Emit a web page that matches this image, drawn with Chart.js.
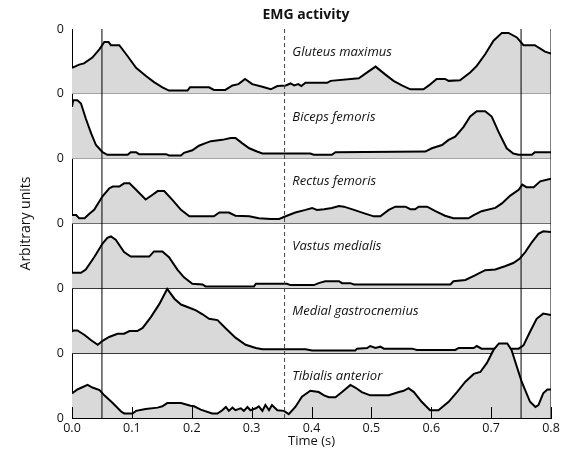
<!DOCTYPE html>
<html><head><meta charset="utf-8">
<script src="https://cdn.jsdelivr.net/npm/chart.js@4.4.1/dist/chart.umd.min.js"></script>
<style>html,body{margin:0;padding:0;background:#fff}#wrap{width:567px;height:458px}</style>
</head><body><div id="wrap"><canvas id="c" width="567" height="458"></canvas></div>
<script>
// ---- data (time in s, activity in arbitrary units, 0..1 per panel) ----
const muscleNames = ['Gluteus maximus','Biceps femoris','Rectus femoris','Vastus medialis','Medial gastrocnemius','Tibialis anterior'];
const gluteusMaximus = [[0,0.40],[0.012,0.45],[0.02,0.47],[0.034,0.56],[0.046,0.69],[0.054,0.80],[0.061,0.80],[0.065,0.75],[0.079,0.75],[0.093,0.58],[0.107,0.40],[0.123,0.28],[0.137,0.18],[0.151,0.10],[0.162,0.05],[0.193,0.05],[0.197,0.10],[0.229,0.10],[0.237,0.06],[0.256,0.06],[0.268,0.13],[0.278,0.15],[0.289,0.23],[0.301,0.15],[0.318,0.11],[0.332,0.07],[0.343,0.12],[0.357,0.13],[0.365,0.16],[0.371,0.13],[0.378,0.15],[0.383,0.12],[0.39,0.17],[0.426,0.17],[0.432,0.20],[0.479,0.24],[0.493,0.33],[0.507,0.42],[0.523,0.30],[0.537,0.20],[0.551,0.13],[0.565,0.07],[0.587,0.07],[0.596,0.13],[0.609,0.23],[0.623,0.23],[0.629,0.20],[0.648,0.21],[0.665,0.33],[0.676,0.43],[0.69,0.61],[0.704,0.82],[0.718,0.94],[0.729,0.94],[0.743,0.87],[0.754,0.75],[0.773,0.75],[0.79,0.65],[0.8,0.62]];
const bicepsFemoris = [[0,0.80],[0.002,0.90],[0.009,0.90],[0.015,0.85],[0.023,0.62],[0.032,0.39],[0.04,0.21],[0.051,0.10],[0.059,0.06],[0.093,0.06],[0.098,0.10],[0.107,0.10],[0.112,0.07],[0.157,0.07],[0.162,0.05],[0.182,0.05],[0.187,0.09],[0.201,0.13],[0.212,0.20],[0.223,0.24],[0.232,0.27],[0.251,0.29],[0.265,0.32],[0.273,0.32],[0.284,0.24],[0.296,0.16],[0.309,0.11],[0.318,0.08],[0.398,0.08],[0.404,0.06],[0.434,0.06],[0.44,0.10],[0.59,0.11],[0.601,0.16],[0.618,0.21],[0.629,0.29],[0.64,0.34],[0.654,0.49],[0.665,0.65],[0.676,0.73],[0.69,0.73],[0.701,0.65],[0.712,0.42],[0.726,0.16],[0.737,0.08],[0.746,0.06],[0.768,0.06],[0.773,0.10],[0.8,0.10]];
const rectusFemoris = [[0,0.13],[0.007,0.13],[0.012,0.08],[0.021,0.08],[0.029,0.15],[0.037,0.21],[0.051,0.42],[0.062,0.54],[0.068,0.57],[0.079,0.57],[0.087,0.62],[0.096,0.62],[0.107,0.52],[0.123,0.37],[0.134,0.44],[0.143,0.50],[0.154,0.50],[0.168,0.36],[0.182,0.21],[0.196,0.11],[0.237,0.11],[0.246,0.17],[0.262,0.17],[0.273,0.12],[0.296,0.11],[0.312,0.08],[0.332,0.07],[0.346,0.07],[0.359,0.12],[0.373,0.17],[0.39,0.21],[0.401,0.24],[0.409,0.21],[0.421,0.22],[0.434,0.24],[0.446,0.27],[0.454,0.26],[0.471,0.21],[0.487,0.16],[0.504,0.11],[0.515,0.11],[0.529,0.21],[0.54,0.26],[0.557,0.26],[0.565,0.22],[0.573,0.22],[0.579,0.26],[0.593,0.26],[0.607,0.19],[0.623,0.12],[0.637,0.08],[0.662,0.08],[0.671,0.13],[0.684,0.19],[0.707,0.24],[0.718,0.31],[0.732,0.43],[0.746,0.52],[0.752,0.60],[0.759,0.56],[0.771,0.56],[0.782,0.65],[0.8,0.69]];
const vastusMedialis = [[0,0.24],[0.015,0.24],[0.023,0.29],[0.037,0.48],[0.051,0.69],[0.059,0.78],[0.065,0.80],[0.073,0.75],[0.087,0.56],[0.098,0.49],[0.129,0.49],[0.137,0.57],[0.151,0.57],[0.162,0.48],[0.176,0.29],[0.187,0.17],[0.201,0.07],[0.218,0.06],[0.223,0.03],[0.304,0.03],[0.307,0.07],[0.359,0.07],[0.365,0.05],[0.404,0.05],[0.412,0.08],[0.423,0.11],[0.446,0.11],[0.451,0.08],[0.465,0.08],[0.471,0.06],[0.632,0.06],[0.637,0.11],[0.657,0.13],[0.673,0.20],[0.69,0.28],[0.707,0.29],[0.723,0.34],[0.737,0.39],[0.748,0.46],[0.757,0.56],[0.768,0.71],[0.779,0.84],[0.787,0.88],[0.8,0.87]];
const medialGastrocnemius = [[0,0.33],[0.002,0.35],[0.009,0.35],[0.021,0.28],[0.032,0.20],[0.043,0.13],[0.051,0.19],[0.062,0.25],[0.076,0.30],[0.087,0.30],[0.096,0.34],[0.109,0.34],[0.118,0.39],[0.132,0.56],[0.146,0.76],[0.159,0.99],[0.171,0.84],[0.182,0.75],[0.196,0.70],[0.207,0.66],[0.218,0.60],[0.229,0.53],[0.243,0.51],[0.257,0.38],[0.273,0.24],[0.29,0.13],[0.307,0.08],[0.318,0.06],[0.39,0.06],[0.401,0.04],[0.473,0.04],[0.476,0.07],[0.493,0.08],[0.498,0.11],[0.507,0.08],[0.515,0.10],[0.521,0.07],[0.568,0.07],[0.576,0.05],[0.64,0.05],[0.646,0.08],[0.671,0.08],[0.676,0.11],[0.684,0.07],[0.746,0.07],[0.754,0.12],[0.765,0.33],[0.776,0.53],[0.787,0.61],[0.8,0.59]];
const tibialisAnterior = [[0,0.38],[0.009,0.44],[0.026,0.51],[0.034,0.47],[0.046,0.43],[0.054,0.35],[0.068,0.23],[0.082,0.10],[0.087,0.07],[0.101,0.07],[0.107,0.11],[0.123,0.14],[0.143,0.16],[0.151,0.18],[0.159,0.23],[0.182,0.23],[0.198,0.19],[0.204,0.18],[0.215,0.13],[0.234,0.07],[0.243,0.07],[0.251,0.12],[0.257,0.17],[0.262,0.11],[0.268,0.16],[0.273,0.12],[0.282,0.15],[0.287,0.11],[0.293,0.17],[0.298,0.12],[0.307,0.15],[0.312,0.18],[0.318,0.11],[0.323,0.20],[0.329,0.12],[0.334,0.20],[0.343,0.12],[0.354,0.11],[0.362,0.06],[0.373,0.17],[0.384,0.33],[0.398,0.42],[0.412,0.40],[0.421,0.35],[0.429,0.32],[0.44,0.32],[0.451,0.40],[0.465,0.51],[0.473,0.47],[0.484,0.40],[0.498,0.35],[0.529,0.35],[0.546,0.40],[0.554,0.42],[0.562,0.46],[0.571,0.40],[0.584,0.25],[0.598,0.12],[0.612,0.12],[0.629,0.25],[0.643,0.40],[0.657,0.56],[0.671,0.68],[0.682,0.71],[0.693,0.85],[0.704,1.05],[0.713,1.15],[0.727,1.15],[0.734,1.05],[0.751,0.56],[0.765,0.25],[0.774,0.17],[0.779,0.20],[0.787,0.38],[0.794,0.44],[0.8,0.44]];
const xTickValues = [0,0.1,0.2,0.3,0.4,0.5,0.6,0.7,0.8];
const solidMarkers = [0.05, 0.75];
const dashedMarker = 0.355;
const yTickText = '0';
const titleText = 'EMG activity';
const xTitle = 'Time (s)';
const yTitle = 'Arbitrary units';

// ---- build chart ----
const series = [gluteusMaximus, bicepsFemoris, rectusFemoris, vastusMedialis, medialGastrocnemius, tibialisAnterior];
const nPanels = series.length;
const FONT = '"Open Sans", "DejaVu Sans", sans-serif';
const datasets = [];
series.forEach((s, i) => {
  const base = nPanels - 1 - i;
  datasets.push({
    label: muscleNames[i],
    data: s.map(([t, v]) => ({x: t, y: base + v})),
    borderColor: '#000', borderWidth: 2, backgroundColor: '#d9d9d9',
    fill: {value: base}, pointRadius: 0, tension: 0, order: base + 1
  });
});
solidMarkers.forEach(t => datasets.push({data: [{x: t, y: 0}, {x: t, y: nPanels}], borderColor: '#000', borderWidth: 1, pointRadius: 0, fill: false, order: 0}));
datasets.push({data: [{x: dashedMarker, y: 0}, {x: dashedMarker, y: nPanels}], borderColor: '#444', borderWidth: 1, borderDash: [4, 3], pointRadius: 0, fill: false, order: 0});
datasets.push({data: [{x: xTickValues[xTickValues.length-1], y: 0}, {x: xTickValues[xTickValues.length-1], y: nPanels}], borderColor: '#000', borderWidth: 1, pointRadius: 0, fill: false, order: 0});

const overlay = {
  id: 'overlay',
  afterDatasetsDraw(chart) {
    const {ctx, scales: {x, y}, chartArea} = chart;
    ctx.save();
    // inner tick marks
    ctx.strokeStyle = '#000'; ctx.lineWidth = 1;
    xTickValues.forEach(v => {
      const px = Math.round(x.getPixelForValue(v)) + 0.5;
      ctx.beginPath(); ctx.moveTo(px, chartArea.bottom); ctx.lineTo(px, chartArea.bottom - 11); ctx.stroke();
    });
    // panel labels
    ctx.fillStyle = '#111'; ctx.font = 'italic 13px ' + FONT;
    ctx.textAlign = 'left'; ctx.textBaseline = 'middle';
    muscleNames.forEach((n, i) => {
      const base = nPanels - 1 - i;
      ctx.fillText(n, x.getPixelForValue(0.368), y.getPixelForValue(base + 0.645));
    });
    // title
    ctx.font = 'bold 14px ' + FONT; ctx.textAlign = 'center';
    ctx.fillText(titleText, 306, 15);
    ctx.restore();
  }
};

new Chart(document.getElementById('c'), {
  type: 'line',
  data: {datasets},
  options: {
    responsive: false, animation: false, devicePixelRatio: 1,
    layout: {padding: {top: 29, right: 16, bottom: 0, left: 0}},
    plugins: {legend: {display: false}, tooltip: {enabled: false}},
    scales: {
      x: {
        type: 'linear', min: 0, max: 0.8,
        afterBuildTicks: s => { s.ticks = xTickValues.map(v => ({value: v})); },
        afterFit: s => { s.height = 40; },
        ticks: {callback: v => v.toFixed(1), color: '#111', font: {family: FONT, size: 12.5}, padding: 3, maxRotation: 0},
        grid: {drawOnChartArea: false, drawTicks: false},
        border: {color: '#000', width: 1},
        title: {display: true, text: xTitle, color: '#111', font: {family: FONT, size: 13}, padding: {top: 0, bottom: 9}}
      },
      y: {
        type: 'linear', min: 0, max: nPanels,
        afterBuildTicks: s => { s.ticks = Array.from({length: nPanels + 1}, (_, k) => ({value: k})); },
        afterFit: s => { s.width = 72; },
        ticks: {callback: () => yTickText, color: '#111', font: {family: FONT, size: 12.5}, padding: 8},
        grid: {color: c => (c.tick && c.tick.value === nPanels) ? 'rgba(0,0,0,0)' : '#000', lineWidth: 1, drawTicks: false},
        border: {color: '#000', width: 1},
        title: {display: true, text: yTitle, color: '#111', font: {family: FONT, size: 14}, padding: {top: 18, bottom: 0}}
      }
    }
  },
  plugins: [overlay]
});
</script>
</body></html>
